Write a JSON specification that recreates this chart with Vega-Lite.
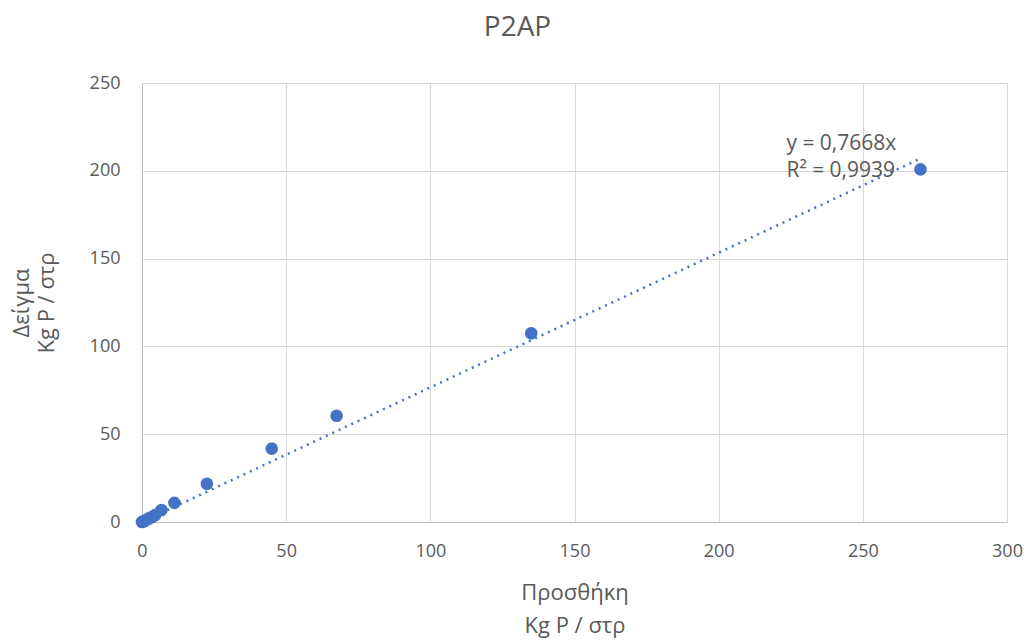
{
  "$schema": "https://vega.github.io/schema/vega-lite/v6.json",
  "width": 865,
  "height": 439,
  "autosize": {"type": "none"},
  "padding": {"left": 142, "top": 83, "right": 24, "bottom": 118},
  "background": "white",
  "config": {
    "font": "Open Sans",
    "view": {"stroke": null},
    "axis": {
      "labelColor": "#595959",
      "titleColor": "#595959",
      "labelFontSize": 18,
      "titleFontSize": 22,
      "titleFontWeight": "normal",
      "gridColor": "#d9d9d9",
      "domainColor": "#bfbfbf",
      "ticks": false,
      "labelFlush": false
    }
  },
  "title": {
    "text": "P2AP",
    "fontSize": 28,
    "fontWeight": "normal",
    "color": "#595959",
    "font": "Open Sans",
    "anchor": "middle",
    "dx": -57,
    "offset": 32
  },
  "datasets": {
    "pts": [
      {"x": 0, "y": 0},
      {"x": 0.56, "y": 0.4},
      {"x": 1.125, "y": 0.9},
      {"x": 2.25, "y": 1.9},
      {"x": 3.4, "y": 2.8},
      {"x": 4.5, "y": 3.9},
      {"x": 6.75, "y": 6.8},
      {"x": 11.25, "y": 10.9},
      {"x": 22.5, "y": 21.8},
      {"x": 45, "y": 41.8},
      {"x": 67.5, "y": 60.5},
      {"x": 135, "y": 107.5},
      {"x": 270, "y": 200.8}
    ],
    "trend": [
      {"x": 0, "y": 0},
      {"x": 270, "y": 207.0}
    ]
  },
  "layer": [
    {
      "data": {"name": "trend"},
      "mark": {"type": "line", "color": "#4472C4", "strokeWidth": 2.5, "strokeDash": [2, 5]},
      "encoding": {
        "x": {
          "field": "x", "type": "quantitative",
          "scale": {"domain": [0, 300], "nice": false},
          "axis": {"values": [0, 50, 100, 150, 200, 250, 300], "title": ["Προσθήκη", "Kg P / στρ"], "labelPadding": 20, "titlePadding": 22, "titleLineHeight": 33}
        },
        "y": {
          "field": "y", "type": "quantitative",
          "scale": {"domain": [0, 250], "nice": false},
          "axis": {"values": [0, 50, 100, 150, 200, 250], "title": ["Δείγμα", "Kg P / στρ"], "labelPadding": 22, "titlePadding": 31, "titleLineHeight": 25}
        }
      }
    },
    {
      "data": {"name": "pts"},
      "mark": {"type": "circle", "color": "#4472C4", "opacity": 1, "size": 160},
      "encoding": {
        "x": {"field": "x", "type": "quantitative"},
        "y": {"field": "y", "type": "quantitative"}
      }
    },
    {
      "data": {"values": [{}]},
      "mark": {"type": "text", "align": "left", "baseline": "middle", "fontSize": 21, "color": "#595959", "lineHeight": 27, "font": "Open Sans"},
      "encoding": {
        "x": {"datum": 223.5},
        "y": {"datum": 215},
        "text": {"value": ["y = 0,7668x", "R² = 0,9939"]}
      }
    }
  ]
}
